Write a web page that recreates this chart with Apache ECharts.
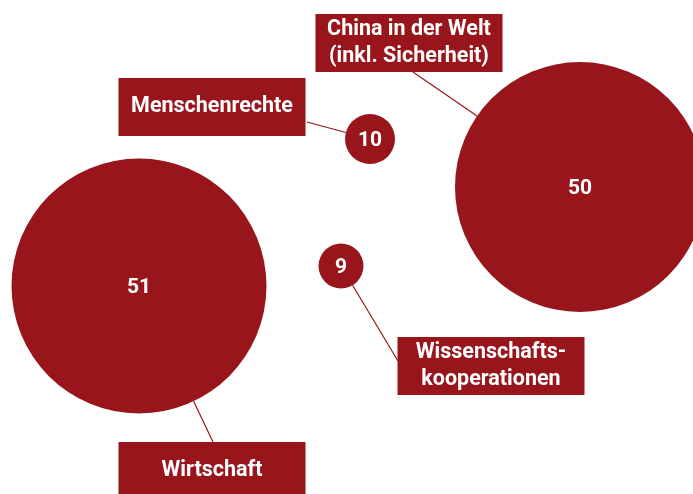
<!DOCTYPE html>
<html>
<head>
<meta charset="utf-8">
<script src="https://cdn.jsdelivr.net/npm/echarts@6/dist/echarts.min.js"></script>
<style>html,body{margin:0;padding:0;background:#fff}#c{width:693px;height:494px}</style>
</head>
<body>
<div id="c"></div>
<script>
// Data
const topics = ['Wirtschaft', 'China in der Welt\n(inkl. Sicherheit)', 'Menschenrechte', 'Wissenschafts-\nkooperationen'];
const counts = [51, 50, 10, 9];
// bubble layout (chart units, x right, y down)
const bubbleX = [139, 580, 370, 341];
const bubbleY = [286, 187, 139, 266];
// label box centres (chart units)
const boxX = [212, 409, 212, 491];
const boxY = [471, 43, 107, 366];
// leader line start points on the label boxes
const leaderX = [213, 413, 307, 398];
const leaderY = [442, 72, 122, 361];

const RED = '#97151b';
const FONT = 'Roboto';
const SIZE_PER_UNIT = 5; // diameter in px per count
const chart = echarts.init(document.getElementById('c'));

const data = counts.map((v, i) => ({ value: [bubbleX[i], bubbleY[i], v], name: topics[i] }));

// leader lines: from box anchor to bubble edge (toward centre)
const leaderLines = counts.map((v, i) => {
  const dx = bubbleX[i] - leaderX[i], dy = bubbleY[i] - leaderY[i];
  const len = Math.sqrt(dx * dx + dy * dy);
  const r = v * SIZE_PER_UNIT / 2;
  const t = (len - r) / len;
  return { coords: [[leaderX[i], leaderY[i]], [leaderX[i] + dx * t, leaderY[i] + dy * t]] };
});

chart.setOption({
  animation: false,
  grid: { left: 0, right: 0, top: 0, bottom: 0 },
  xAxis: { type: 'value', min: 0, max: 693, show: false },
  yAxis: { type: 'value', min: 0, max: 494, inverse: true, show: false },
  series: [
    {
      type: 'lines',
      coordinateSystem: 'cartesian2d',
      data: leaderLines,
      lineStyle: { color: RED, width: 1.2, opacity: 1 },
      symbol: 'none',
      z: 1
    },
    {
      type: 'scatter',
      data: data,
      symbolSize: d => d[2] * SIZE_PER_UNIT,
      itemStyle: { color: RED, opacity: 1 },
      label: {
        show: true,
        position: 'inside',
        formatter: p => p.value[2],
        color: '#fff',
        fontFamily: FONT,
        fontWeight: 'bold',
        fontSize: 21,
        offset: [0, 1.5]
      },
      z: 2
    },
    {
      type: 'scatter',
      data: data.map((d, i) => topics[i].indexOf('\n') < 0
        ? Object.assign({}, d, { label: { padding: [17.5, 0, 13.5, 0] } })
        : d),
      symbolSize: 2,
      itemStyle: { color: 'rgba(0,0,0,0)', opacity: 1 },
      label: {
        show: true,
        formatter: p => p.name,
        color: '#fff',
        fontFamily: FONT,
        fontWeight: 'bold',
        fontSize: 21.5,
        lineHeight: 27,
        width: 187,
        align: 'center',
        backgroundColor: RED,
        padding: [4, 0, 0, 0]
      },
      labelLayout: function (p) {
        const i = p.dataIndex;
        return { x: boxX[i], y: boxY[i], align: 'center', verticalAlign: 'middle' };
      },
      z: 3
    }
  ]
});
</script>
</body>
</html>
